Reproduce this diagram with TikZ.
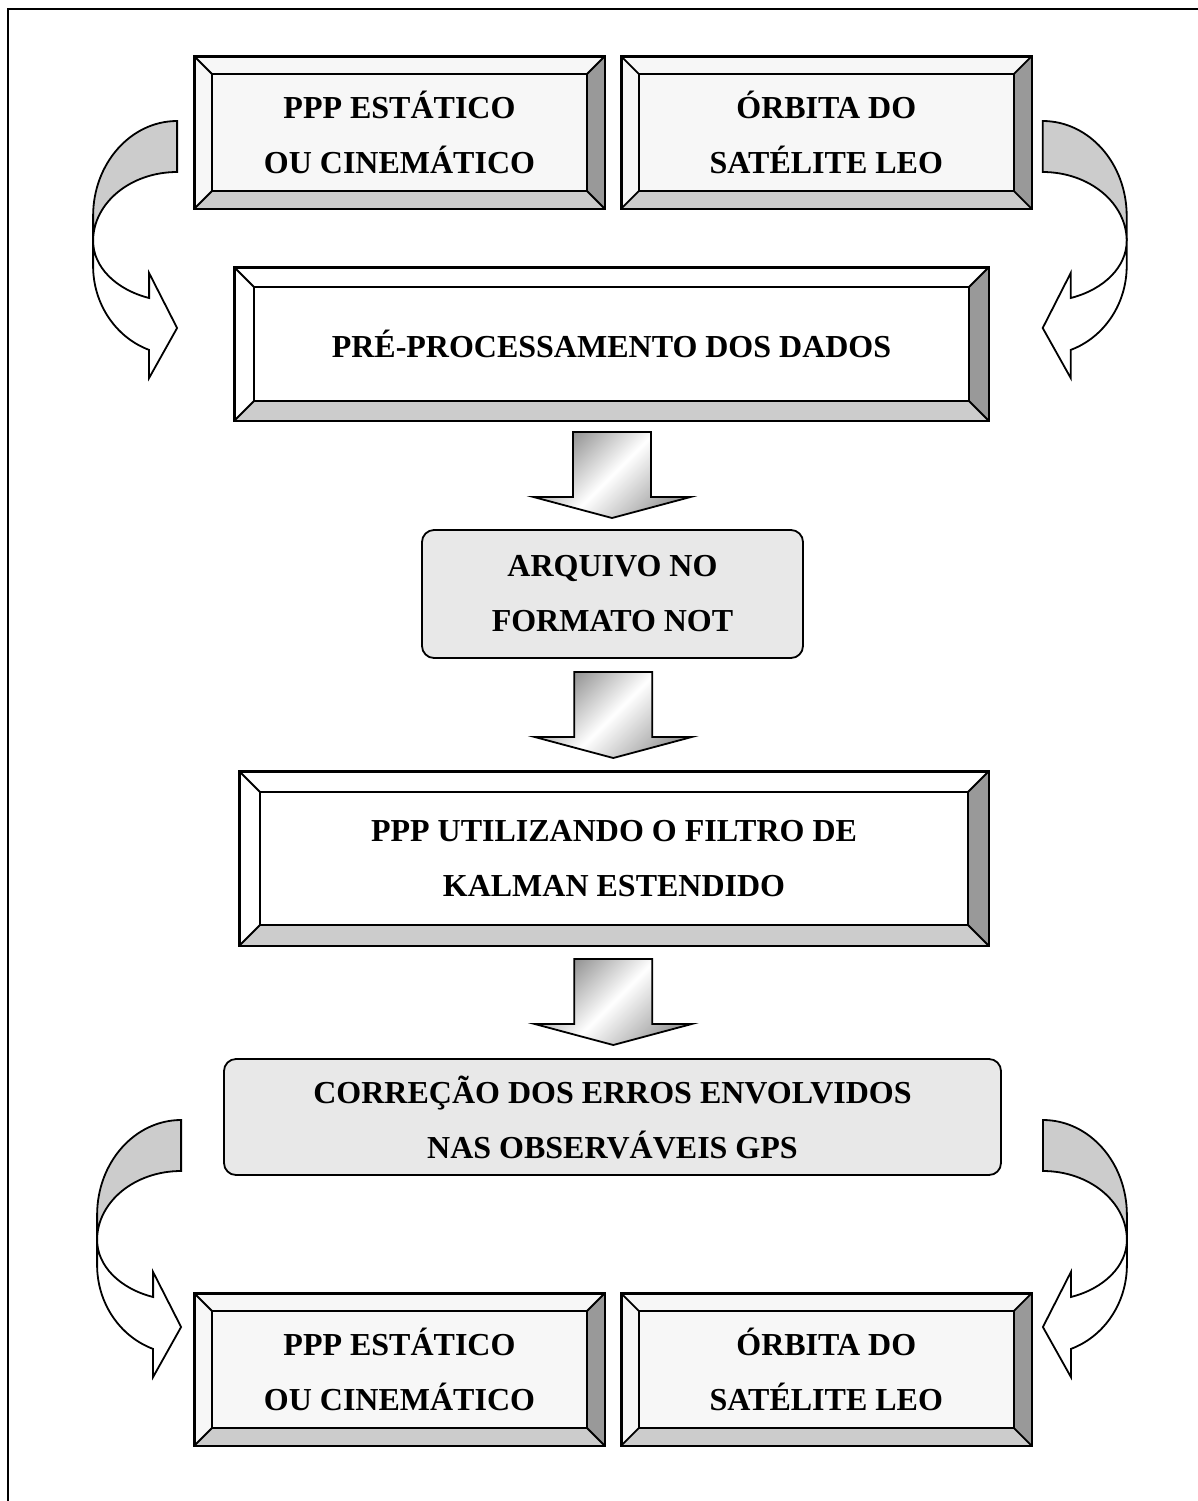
\documentclass[tikz,border=0pt]{standalone}
\usepackage{fontspec}
\setmainfont{Liberation Serif}
\usetikzlibrary{positioning,calc}
\tikzset{
	>=latex,
}
\begin{document}
\begin{tikzpicture}[
		x=0.5pt, y=-0.5pt,
		line width=0.9pt,
		box/.style={
			rectangle, draw, inner sep=0pt, align=center,
			font=\bfseries\fontsize{16}{27.5}\selectfont,
		},
		smallbevel/.style={box, minimum width=204.5pt, minimum height=75.5pt, fill=black!3},
		widebevel/.style={box, fill=white},
		roundbox/.style={box, rounded corners=6pt, fill=black!9},
	]
	% bevel frame round a node: #1 node, #2 depth
	\def\bevel#1#2{%
		\fill[black!20] (#1.south west) -- ($(#1.south west)+(#2,-#2)$) -- ($(#1.south east)+(-#2,-#2)$) -- (#1.south east) -- cycle;
		\fill[black!40] (#1.south east) -- ($(#1.south east)+(-#2,-#2)$) -- ($(#1.north east)+(-#2,#2)$) -- (#1.north east) -- cycle;
		\draw (#1.north west) rectangle (#1.south east);
		\draw ($(#1.north west)+(#2,#2)$) rectangle ($(#1.south east)+(-#2,-#2)$);
		\draw (#1.north west) -- ++(#2,#2);
		\draw (#1.north east) -- ++(-#2,#2);
		\draw (#1.south west) -- ++(#2,-#2);
		\draw (#1.south east) -- ++(-#2,-#2);
	}
	% shaded block arrow between two nodes
	\def\blockarrow#1#2#3{%
		\coordinate (#3) at ($(#1.south)!0.5!(#2.north)$);
		\draw[shift={(#3)}, left color=black!45, right color=black!38, middle color=white, shading angle=45]
			(-39,-43) -- (39,-43) -- (39,22) -- (78.5,22) -- (0,43) -- (-78.5,22) -- (-39,22) -- cycle;
	}
	% curved arrow from its start point, #2 = 1 or -1 for the side
	\def\curvedarrow#1#2{%
		\begin{scope}[shift={(#1)}, xscale=#2]
			\draw[fill=black!20] (0,0) arc[start angle=270, end angle=180, x radius=84, y radius=95]
				-- (-84,120)
				arc[start angle=180, end angle=270, x radius=84, y radius=69] -- cycle;
			\draw[fill=white] (-84,120) -- (-84,145)
				arc[start angle=180, end angle=109.5, x radius=84, y radius=89]
				-- (-28,257) -- (0,207) -- (-28,152) -- (-28,177)
				arc[start angle=109.5, end angle=180, x radius=84, y radius=60.4] -- cycle;
		\end{scope}
	}
	\useasboundingbox (0,0) rectangle (1198,1501);
	\draw (8,1501) -- (8,9) -- (1198,9);

	\node (ppp1) [smallbevel] at (399.5,132.5) {PPP ESTÁTICO\\OU CINEMÁTICO};
	\node (orb1) [smallbevel, right=8pt of ppp1] {ÓRBITA DO\\SATÉLITE LEO};
	\node (pre) [widebevel, minimum width=376.5pt, minimum height=76pt] at (611.5,344) {PRÉ-PROCESSAMENTO DOS DADOS};
	\node (arq) [roundbox, minimum width=190.5pt, minimum height=64pt] at (612.5,594) {ARQUIVO NO\\FORMATO NOT};
	\node (kal) [widebevel, minimum width=374pt, minimum height=86.5pt] at (614,858.5) {PPP UTILIZANDO O FILTRO DE\\KALMAN ESTENDIDO};
	\node (cor) [roundbox, minimum width=388.5pt, minimum height=58pt] at (612.5,1117) {CORREÇÃO DOS ERROS ENVOLVIDOS\\NAS OBSERVÁVEIS GPS};
	\node (ppp2) [smallbevel] at (399.5,1369.5) {PPP ESTÁTICO\\OU CINEMÁTICO};
	\node (orb2) [smallbevel, right=8pt of ppp2] {ÓRBITA DO\\SATÉLITE LEO};

	\bevel{ppp1}{18}
	\bevel{orb1}{18}
	\bevel{pre}{20}
	\bevel{kal}{21}
	\bevel{ppp2}{18}
	\bevel{orb2}{18}

	\blockarrow{pre}{arq}{a1}
	\blockarrow{arq}{kal}{a2}
	\blockarrow{kal}{cor}{a3}

	\coordinate (c1) at ($(ppp1.west)+(-17,-11.5)$);
	\coordinate (c2) at ($(orb1.east)+(11,-11.5)$);
	\coordinate (c3) at ($(cor.west)+(-42,3)$);
	\coordinate (c4) at ($(cor.east)+(41,3)$);
	\curvedarrow{c1}{1}
	\curvedarrow{c2}{-1}
	\curvedarrow{c3}{1}
	\curvedarrow{c4}{-1}
\end{tikzpicture}
\end{document}
